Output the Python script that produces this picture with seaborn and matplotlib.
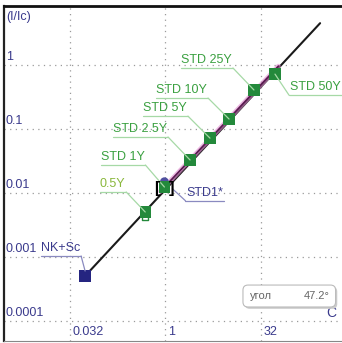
import matplotlib
matplotlib.use("Agg")
import matplotlib.pyplot as plt
from matplotlib.lines import Line2D
from matplotlib.patches import FancyBboxPatch
import seaborn as sns
import pandas as pd
import numpy as np

# ---- data ----
std_labels = ["0.5Y", "STD 1Y", "STD 2.5Y", "STD 5Y", "STD 10Y", "STD 25Y", "STD 50Y"]
std_x = [0.49, 0.98, 2.47, 5.07, 10.1, 24.8, 53.0]
std_y = [0.00505, 0.0124, 0.0328, 0.072, 0.143, 0.407, 0.72]
nk_label = "NK+Sc"
nk_x = [0.056]
nk_y = [0.000505]
std1_label = "STD1*"
std1_x = [0.98]
std1_y = [0.0150]
hollow_x = [0.49]
hollow_y = [0.0042]
line_x = [0.056, 270.0]
line_y = [0.000505, 4.5]
fit_x = [0.85, 60.0]
fit_y = [0.0106, 0.96]
xticks = [0.032, 1, 32]
xtick_labels = ["0.032", "1", "32"]
yticks = [1, 0.1, 0.01, 0.001, 0.0001]
ytick_labels = ["1", "0.1", "0.01", "0.001", "0.0001"]
angle_text = "47.2°"

sns.set_theme(style="white")
plt.rcParams["font.family"] = ["Liberation Sans", "DejaVu Sans"]

W, H = 342, 343
fig = plt.figure(figsize=(W / 100, H / 100), dpi=100)
ax = fig.add_axes([4 / W, 2 / H, 338 / W, 335 / H])
ax.set_xscale("log")
ax.set_yscale("log")
ax.set_xlim(0.0030, 595)
ax.set_ylim(4.87e-5, 8.35)

navy = "#3a3a8c"
green = "#23893b"
gtext = "#3aa040"
gline = "#a6d9a6"
label_colors = ["#8ab83c"] + [gtext] * 6

# grid
ax.set_xticks(xticks)
ax.set_yticks(yticks)
ax.minorticks_off()
ax.set_xticklabels([])
ax.set_yticklabels([])
ax.tick_params(length=0)
ax.grid(True, color="#9a9a9a", linestyle=(0, (1, 3.5)), linewidth=0.9)

ax.spines["right"].set_visible(False)
ax.spines["left"].set_color("#222222")
ax.spines["left"].set_linewidth(1.6)
ax.spines["top"].set_color("#111111")
ax.spines["top"].set_linewidth(2.0)
ax.spines["bottom"].set_color("#888888")
ax.spines["bottom"].set_linewidth(0.8)

# lines
sns.lineplot(x=line_x, y=line_y, ax=ax, color="#1a1a1a", linewidth=1.5, zorder=3)
sns.lineplot(x=fit_x, y=fit_y, ax=ax, color="#e08ad0", linewidth=3.4, alpha=0.6, zorder=3.5)
sns.lineplot(x=fit_x, y=fit_y, ax=ax, color="#5a1a50", linewidth=1.3, zorder=3.6)

# markers
sns.scatterplot(x=std1_x, y=std1_y, ax=ax, marker="o", s=40, color="#5050a0", edgecolor="none", zorder=4)
sns.scatterplot(x=hollow_x, y=hollow_y, ax=ax, marker="s", s=24, facecolor="white", edgecolor=green, linewidth=1.0, zorder=4)
sns.scatterplot(x=std_x, y=std_y, ax=ax, marker="s", s=66, color=green, edgecolor="none", zorder=5)
sns.scatterplot(x=nk_x, y=nk_y, ax=ax, marker="s", s=66, color="#252580", edgecolor="none", zorder=5)

# tick labels as text
for v, lab in zip(yticks, ytick_labels):
    ax.annotate(lab, xy=(0, v), xycoords=("axes fraction", "data"), xytext=(2, 2),
                textcoords="offset pixels", ha="left", va="bottom", fontsize=9, color=navy)
for v, lab in zip(xticks, xtick_labels):
    ax.annotate(lab, xy=(v, 0), xycoords=("data", "axes fraction"), xytext=(3, 3),
                textcoords="offset pixels", ha="left", va="bottom", fontsize=9, color=navy)
ax.text(0.006, 0.985, "(I/Ic)", transform=ax.transAxes, ha="left", va="top", fontsize=9, color=navy)
ax.annotate("C", xy=(1, 0.0001), xycoords=("axes fraction", "data"), xytext=(-16, 1),
            textcoords="offset pixels", ha="left", va="bottom", fontsize=10, color=navy)

fig.canvas.draw()
renderer = fig.canvas.get_renderer()


def leader(px, py, dx, dy, label, tcolor, lcolor, side, start=(0, 0)):
    # dx, dy in image pixels (y down)
    x0, y0 = ax.transData.transform((px, py))
    ex, ey = x0 + dx, y0 - dy
    if side == "left":
        t = fig.text((ex - 1) / W, (ey + 2) / H, label, ha="right", va="bottom", fontsize=9, color=tcolor)
    else:
        t = fig.text((ex + 1) / W, (ey + 2) / H, label, ha="left", va="bottom", fontsize=9, color=tcolor)
    bb = t.get_window_extent(renderer)
    if side == "left":
        ux = [bb.x0, ex]
    else:
        ux = [ex, bb.x1 + 1]
    fig.add_artist(Line2D([u / W for u in ux], [ey / H, ey / H], color=lcolor, lw=0.9, transform=fig.transFigure))
    fig.add_artist(Line2D([(x0 + start[0]) / W, ex / W], [(y0 - start[1]) / H, ey / H], color=lcolor, lw=0.9,
                          transform=fig.transFigure, zorder=2))


offsets = [(-19, -20), (-19, -22), (-22, -23), (-22, -22), (-21, -21), (-21, -22), (14, 21)]
for (x, y, lab, c, (dx, dy)) in zip(std_x, std_y, std_labels, label_colors, offsets):
    leader(x, y, dx, dy, lab, c, gline, "right" if dx > 0 else "left")
leader(nk_x[0], nk_y[0], -4, -20, nk_label, navy, "#8a8ac0", "left", start=(0, -5))
leader(std1_x[0], std1_y[0], 21, 19, std1_label, navy, "#8a8ac0", "right", start=(8, 7))

# selection brackets around STD1
bx, by = ax.transData.transform((std1_x[0], std1_y[0]))
fig.text((bx - 8) / W, (by - 7) / H, "[", ha="center", va="center", fontsize=12, fontweight="bold", color="black")
fig.text((bx + 7) / W, (by - 7) / H, "]", ha="center", va="center", fontsize=12, fontweight="bold", color="black")

# angle box
shadow = FancyBboxPatch((0.712, 0.096), 0.274, 0.066, boxstyle="round,pad=0,rounding_size=0.015",
                        transform=ax.transAxes, facecolor="#cccccc", edgecolor="none", zorder=6)
box = FancyBboxPatch((0.707, 0.1015), 0.274, 0.0655, boxstyle="round,pad=0,rounding_size=0.015",
                     transform=ax.transAxes, facecolor="white", edgecolor="#bbbbbb", linewidth=0.8, zorder=7)
ax.add_patch(shadow)
ax.add_patch(box)
ax.text(0.728, 0.134, "угол", transform=ax.transAxes, ha="left", va="center", fontsize=8, color="#666666", zorder=8)
ax.text(0.962, 0.134, angle_text, transform=ax.transAxes, ha="right", va="center", fontsize=8, color="#666666", zorder=8)

fig.savefig("out.png", dpi=100)
